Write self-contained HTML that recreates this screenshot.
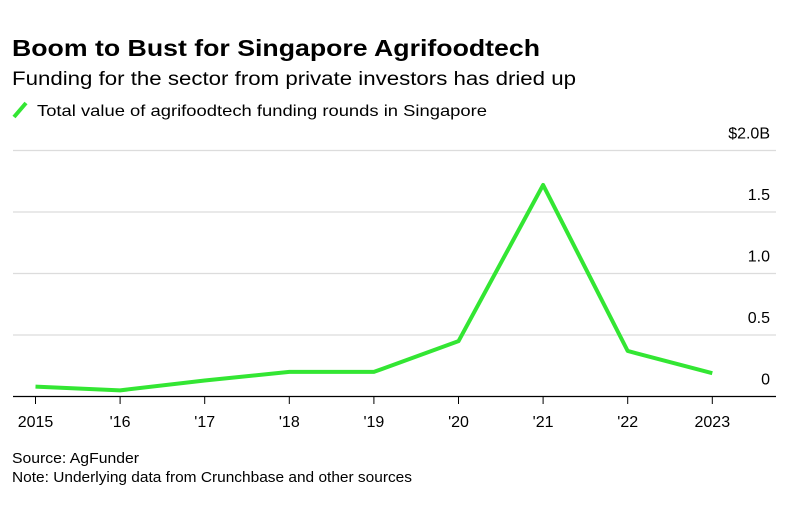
<!DOCTYPE html>
<html><head><meta charset="utf-8"><style>
body{margin:0;background:#fff;width:800px;height:507px;overflow:hidden;font-family:"Liberation Sans",sans-serif;color:#000}
</style></head><body>
<svg width="800" height="507" xmlns="http://www.w3.org/2000/svg">
<text x="12" y="56" font-size="23" font-weight="bold" textLength="528" lengthAdjust="spacingAndGlyphs">Boom to Bust for Singapore Agrifoodtech</text>
<text x="12" y="85" font-size="19" textLength="564" lengthAdjust="spacingAndGlyphs">Funding for the sector from private investors has dried up</text>
<line x1="14" y1="117" x2="26" y2="103" stroke="#33e633" stroke-width="4"/>
<text x="37" y="116" font-size="16" textLength="450" lengthAdjust="spacingAndGlyphs">Total value of agrifoodtech funding rounds in Singapore</text>
<g id="grid"></g><g id="xaxis"></g>
<path id="line" fill="none" stroke="#33e633" stroke-width="4" stroke-linejoin="round"/>
<text x="12" y="463" font-size="15" textLength="127" lengthAdjust="spacingAndGlyphs">Source: AgFunder</text>
<text x="12" y="482" font-size="15" textLength="400" lengthAdjust="spacingAndGlyphs">Note: Underlying data from Crunchbase and other sources</text>
</svg>
<script>
const categories=["2015","'16","'17","'18","'19","'20","'21","'22","2023"];
const values=[0.08,0.05,0.13,0.2,0.2,0.45,1.72,0.37,0.19];
const yTicks=[0,0.5,1.0,1.5,2.0];
const yTickLabels=["0","0.5","1.0","1.5","$2.0B"];
const NS="http://www.w3.org/2000/svg";
const x=i=>35.5+i*84.6;
const y=v=>396.5-v*123;
const grid=document.getElementById('grid'),xa=document.getElementById('xaxis');
function mk(tag,attrs,parent){const e=document.createElementNS(NS,tag);for(const k in attrs)e.setAttribute(k,attrs[k]);parent.appendChild(e);return e;}
yTicks.forEach((t,i)=>{
  if(t>0){const l=mk('line',{x1:13,x2:776,y1:y(t),y2:y(t),stroke:'#dcdcdc','stroke-width':1.2},grid);
  
  }
  const tx=mk('text',{x:770,y:y(t)-12,'font-size':16,'text-anchor':'end'},grid);
  tx.textContent=yTickLabels[i];
  
  
});
const ax=mk('line',{x1:13,x2:776,y1:396.5,y2:396.5,stroke:'#000','stroke-width':1.2},xa);


categories.forEach((c,i)=>{
  const tk=mk('line',{x1:x(i),x2:x(i),y1:396,y2:404,stroke:'#000','stroke-width':1},xa);
  
  
  const t=mk('text',{x:x(i),y:427,'font-size':16,'text-anchor':'middle'},xa);
  t.textContent=c;
  
  
});
document.getElementById('line').setAttribute('d',values.map((v,i)=>(i?'L':'M')+x(i)+','+y(v)).join(''));
</script>
</body></html>
